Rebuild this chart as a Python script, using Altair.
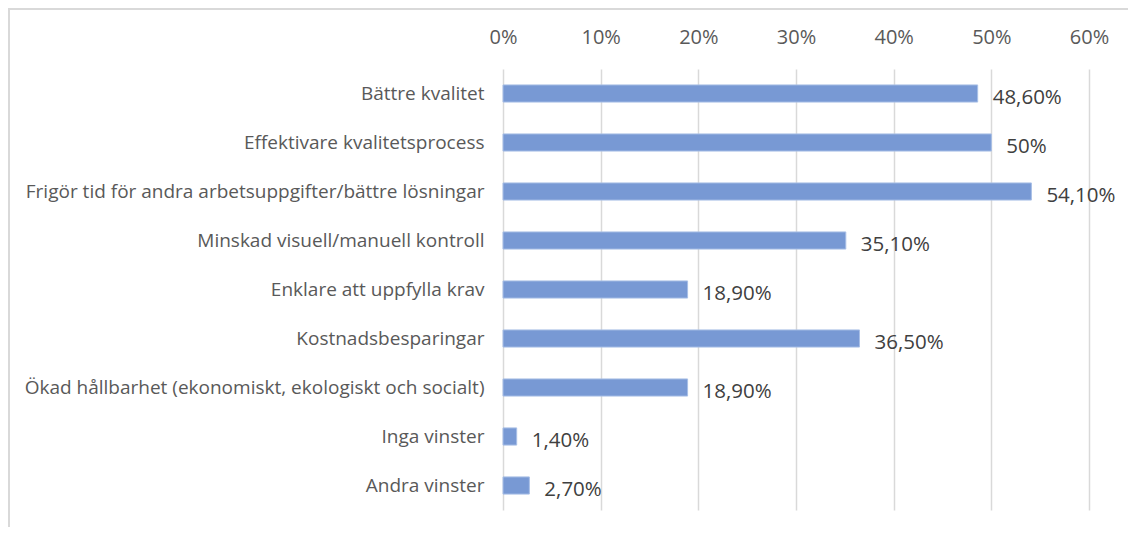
import altair as alt
import pandas as pd

categories = [
    "Bättre kvalitet",
    "Effektivare kvalitetsprocess",
    "Frigör tid för andra arbetsuppgifter/bättre lösningar",
    "Minskad visuell/manuell kontroll",
    "Enklare att uppfylla krav\u00a0",
    "Kostnadsbesparingar",
    "Ökad hållbarhet (ekonomiskt, ekologiskt och socialt)\u00a0",
    "Inga vinster",
    "Andra vinster\u00a0",
]
values = [0.486, 0.50, 0.541, 0.351, 0.189, 0.365, 0.189, 0.014, 0.027]
value_labels = ["48,60%", "50%", "54,10%", "35,10%", "18,90%", "36,50%", "18,90%", "1,40%", "2,70%"]
tick_values = [0, 0.1, 0.2, 0.3, 0.4, 0.5, 0.6]

df = pd.DataFrame({"cat": categories, "val": values, "lab": value_labels})

FONT = "Open Sans"

x_enc = alt.X(
    "val:Q",
    scale=alt.Scale(domain=[0, 0.6], nice=False),
    axis=alt.Axis(
        orient="top", values=tick_values, format=".0%", title=None,
        domain=False, ticks=False, labelPadding=22, labelFontSize=20,
        labelColor="#595959", labelFont=FONT, labelFlush=False,
        grid=True, gridColor="#d9d9d9", gridWidth=1.5,
    ),
)
y_enc = alt.Y(
    "cat:N", sort=categories, title=None,
    scale=alt.Scale(paddingInner=0.65, paddingOuter=0.325),
    axis=alt.Axis(
        domain=False, ticks=False, labelPadding=19, labelFontSize=19,
        labelColor="#595959", labelFont=FONT, labelLimit=600,
    ),
)

bars = alt.Chart(df).mark_bar(color="#7899d4", stroke="#a8bfe6", strokeWidth=1).encode(x=x_enc, y=y_enc)
labels = alt.Chart(df).mark_text(
    align="left", baseline="middle", dx=15, dy=4, fontSize=20.5, color="#404040", font=FONT
).encode(x="val:Q", y=alt.Y("cat:N", sort=categories), text="lab:N")

border_left = alt.Chart(df).mark_rule(color="#d9d9d9", strokeWidth=2).encode(
    x=alt.value(-494), y=alt.value(-60), y2=alt.value(480)
)
border_top = alt.Chart(df).mark_rule(color="#d9d9d9", strokeWidth=2).encode(
    x=alt.value(-495), x2=alt.value(640), y=alt.value(-60)
)

chart = alt.layer(bars, labels, border_left, border_top).properties(
    width=586, height=441,
    autosize=alt.AutoSizeParams(type="none"),
    padding={"left": 495, "top": 61, "right": 39, "bottom": 17},
).configure_view(stroke=None)

chart.save("out.html", embed_options={"renderer": "svg", "actions": False})
